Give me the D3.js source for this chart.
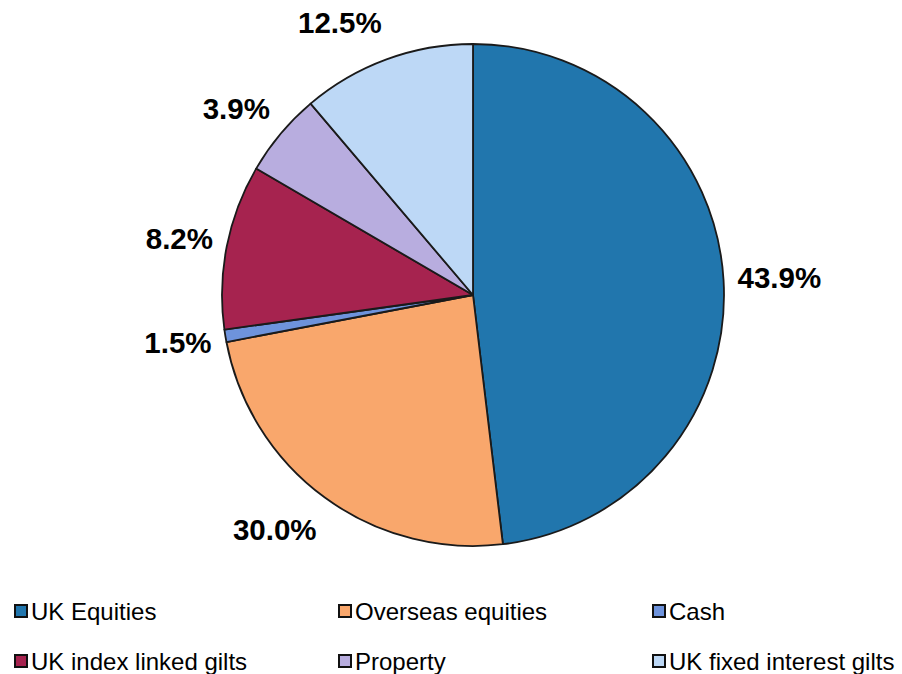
<!DOCTYPE html>
<html>
<head>
<meta charset="utf-8">
<script src="https://cdn.jsdelivr.net/npm/d3@7/dist/d3.min.js"></script>
<style>
  html, body { margin: 0; padding: 0; background: #ffffff; }
  svg { display: block; }
</style>
</head>
<body>
<div id="chart"></div>
<script>
// ---- data ----
const categories = ["UK Equities", "Overseas equities", "Cash", "UK index linked gilts", "Property", "UK fixed interest gilts"];
// slice sizes as drawn (share of the circle, %)
const sliceValues = [48.1, 23.9, 0.8, 10.6, 5.4, 11.2];
// percentage labels printed on the chart
const sliceLabels = ["43.9%", "30.0%", "1.5%", "8.2%", "3.9%", "12.5%"];
const colors = ["#2176ad", "#f9a76c", "#6e93dc", "#a6234f", "#b8addf", "#bdd8f6"];
// legend layout: order of entries in rows of three
const legendOrder = [0, 1, 2, 3, 4, 5];

const W = 902, H = 674;
const cx = 473, cy = 295, R = 251;

const svg = d3.select("#chart").append("svg")
  .attr("width", W).attr("height", H);

const pie = d3.pie().sort(null).value(d => d.v);
const arcs = pie(categories.map((c, i) => ({ c, v: sliceValues[i], i })));
const arc = d3.arc().innerRadius(0).outerRadius(R);

const g = svg.append("g").attr("transform", `translate(${cx},${cy})`);

g.selectAll("path.slice")
  .data(arcs)
  .enter().append("path")
  .attr("class", "slice")
  .attr("d", arc)
  .attr("fill", d => colors[d.data.i])
  .attr("stroke", "#1a1a1a")
  .attr("stroke-width", 1.8)
  .attr("stroke-linejoin", "round");

// labels placed on an ellipse around the pie
const rx = 265, ry = 290;
g.selectAll("text.lbl")
  .data(arcs)
  .enter().append("text")
  .attr("class", "lbl")
  .each(function(d) {
    const a = (d.startAngle + d.endAngle) / 2;
    const s = Math.sin(a), c = Math.cos(a);
    d3.select(this)
      .attr("x", s * rx)
      .attr("y", -c * ry + 10.5)
      .attr("text-anchor", s >= 0 ? "start" : "end");
  })
  .attr("font-family", "'Liberation Sans', Arial, Helvetica, sans-serif")
  .attr("font-weight", "bold")
  .attr("font-size", 29.5)
  .attr("fill", "#000")
  .text(d => sliceLabels[d.data.i]);

// legend
const colX = [14, 338, 652];
const rowY = [611, 661];
const leg = svg.append("g");
legendOrder.forEach((idx, k) => {
  const col = k % 3, row = Math.floor(k / 3);
  const x = colX[col], y = rowY[row];
  leg.append("rect")
    .attr("x", x + 1).attr("y", y - 6)
    .attr("width", 12).attr("height", 12)
    .attr("fill", colors[idx])
    .attr("stroke", "#111")
    .attr("stroke-width", 2);
  leg.append("text")
    .attr("x", x + 17).attr("y", y + 8.5)
    .attr("font-family", "'Liberation Sans', Arial, Helvetica, sans-serif")
    .attr("font-size", 24)
    .attr("fill", "#000")
    .text(categories[idx]);
});
</script>
</body>
</html>
